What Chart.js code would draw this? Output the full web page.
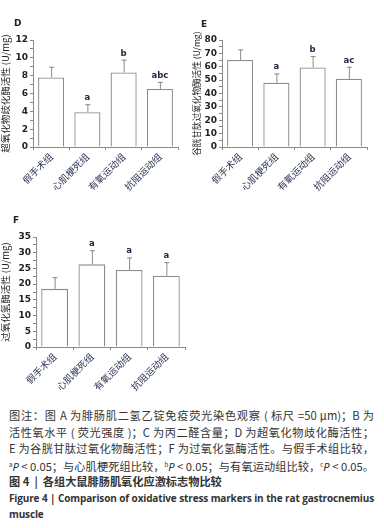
<!DOCTYPE html>
<html>
<head>
<meta charset="utf-8">
<script src="https://cdn.jsdelivr.net/npm/chart.js@4.4.1/dist/chart.umd.min.js"></script>
<style>
  body { margin: 0; background: #fff; width: 384px; height: 528px; position: relative; overflow: hidden; }
  .box { position: absolute; width: 192px; height: 200px; }
  .tag { position: absolute; font: bold 9px "DejaVu Sans", sans-serif; color: #222; }
  .cap { position: absolute; left: 9px; top: 407px; width: 365px; font: 11.2px/16.5px "Noto Sans CJK SC", "Noto Sans", sans-serif; color: #333; }
  .cap div { height: 16.5px; white-space: nowrap; }
  .cap .j { text-align: justify; text-align-last: justify; }
  .cap sup { font-size: 6px; vertical-align: 4px; }
  .cap i { font-family: "Noto Sans", sans-serif; }
  .cap .b { font-weight: bold; }
  .cap .en { font-family: "Open Sans", "Noto Sans", sans-serif; font-weight: bold; font-size: 10px; letter-spacing: -0.15px; }
</style>
</head>
<body>
<div class="box" style="left:0;top:0"><canvas id="chartD"></canvas></div>
<div class="box" style="left:192px;top:0"><canvas id="chartE"></canvas></div>
<div class="box" style="left:0;top:200px"><canvas id="chartF"></canvas></div>
<div class="tag" style="left:14px;top:18px">D</div>
<div class="tag" style="left:201px;top:19px">E</div>
<div class="tag" style="left:13px;top:215px">F</div>
<div class="cap">
  <div class="j">图注：图 A 为腓肠肌二氢乙锭免疫荧光染色观察 ( 标尺 =50 μm)；B 为</div>
  <div class="j">活性氧水平 ( 荧光强度 )；C 为丙二醛含量；D 为超氧化物歧化酶活性；</div>
  <div class="j">E 为谷胱甘肽过氧化物酶活性；F 为过氧化氢酶活性。与假手术组比较，</div>
  <div class="j"><sup>a</sup><i>P</i> &lt; 0.05；与心肌梗死组比较，<sup>b</sup><i>P</i> &lt; 0.05；与有氧运动组比较，<sup>c</sup><i>P</i> &lt; 0.05。</div>
  <div class="b">图 4 &nbsp;|&nbsp; 各组大鼠腓肠肌氧化应激标志物比较</div>
  <div class="j en">Figure 4 | Comparison of oxidative stress markers in the rat gastrocnemius</div>
  <div class="en">muscle</div>
</div>
<script>
const categories = ['假手术组', '心肌梗死组', '有氧运动组', '抗阻运动组'];

// D: superoxide dismutase
const sodValues = [7.8, 3.9, 8.35, 6.5];
const sodErrors = [1.2, 0.9, 1.45, 0.8];
const sodLetters = ['', 'a', 'b', 'abc'];
const sodTicks = [0, 2, 4, 6, 8, 10, 12];

// E: glutathione peroxidase
const gpxValues = [65, 48, 59.5, 51];
const gpxErrors = [8, 7, 8.5, 9];
const gpxLetters = ['', 'a', 'b', 'ac'];
const gpxTicks = [0, 10, 20, 30, 40, 50, 60, 70, 80];

// F: catalase
const catValues = [18.5, 26.3, 24.5, 22.7];
const catErrors = [3.7, 4.5, 4, 4.3];
const catLetters = ['', 'a', 'a', 'a'];
const catTicks = [0, 5, 10, 15, 20, 25, 30, 35];

const cjk = '"Noto Sans CJK SC", sans-serif';
const num = '"DejaVu Sans", sans-serif';

const errorBars = {
  id: 'errorBars',
  afterDatasetsDraw(chart, args, opts) {
    const ctx = chart.ctx;
    const y = chart.scales.y;
    const vals = chart.data.datasets[0].data;
    chart.getDatasetMeta(0).data.forEach((bar, i) => {
      const top = y.getPixelForValue(vals[i] + opts.errors[i]);
      ctx.save();
      ctx.strokeStyle = '#8a8a8a';
      ctx.lineWidth = 1;
      ctx.beginPath();
      ctx.moveTo(bar.x + 0.5, bar.y);
      ctx.lineTo(bar.x + 0.5, top);
      ctx.moveTo(bar.x - 2, top + 0.5);
      ctx.lineTo(bar.x + 3, top + 0.5);
      ctx.stroke();
      ctx.fillStyle = '#1c2540';
      ctx.font = 'bold 8.5px ' + num;
      ctx.textAlign = 'center';
      ctx.textBaseline = 'bottom';
      ctx.fillText(opts.letters[i], bar.x, top - 2);
      ctx.restore();
    });
  }
};

function makeChart(id, values, errors, letters, box, ticks, yTitle) {
  // major ticks plus one unlabeled minor tick between each pair
  const all = [];
  ticks.forEach((t, i) => {
    all.push({ value: t, major: true });
    if (i < ticks.length - 1) all.push({ value: (t + ticks[i + 1]) / 2, major: false });
  });
  return new Chart(document.getElementById(id), {
    type: 'bar',
    data: {
      labels: categories,
      datasets: [{
        data: values,
        backgroundColor: '#ffffff',
        borderColor: '#8c8c8c',
        borderWidth: 1.3,
        categoryPercentage: 1,
        barPercentage: 0.72
      }]
    },
    options: {
      animation: false,
      responsive: false,
      devicePixelRatio: 1,
      layout: { padding: { top: box.top, right: box.right, left: 0, bottom: 0 } },
      plugins: {
        legend: { display: false },
        tooltip: { enabled: false },
        errorBars: { errors: errors, letters: letters }
      },
      scales: {
        x: {
          afterFit: s => { s.height = box.xh; },
          border: { color: '#8a8a8a', width: 1 },
          grid: { drawOnChartArea: false, tickLength: 3, color: '#8a8a8a' },
          ticks: {
            maxRotation: 45, minRotation: 45, padding: 1,
            color: '#2b3350',
            font: { family: cjk, size: 9.5 }
          }
        },
        y: {
          min: ticks[0], max: ticks[ticks.length - 1],
          afterFit: s => { s.width = box.left; },
          afterBuildTicks: s => { s.ticks = all.map(t => ({ value: t.value })); },
          border: { color: '#8a8a8a', width: 1 },
          grid: { drawOnChartArea: false, tickLength: 3, color: '#8a8a8a' },
          title: {
            display: true, text: yTitle, padding: 0,
            color: '#222', font: { family: cjk, size: box.tsize }
          },
          ticks: {
            padding: 2, autoSkip: false,
            color: '#222',
            font: { family: num, size: 9, weight: 'bold' },
            callback: (v, i) => (all[i] && all[i].major ? String(all[i].value) : '')
          }
        }
      }
    },
    plugins: [errorBars]
  });
}

function size(id) {
  const c = document.getElementById(id);
  c.width = 192; c.height = 200;
  c.style.width = '192px'; c.style.height = '200px';
}
['chartD', 'chartE', 'chartF'].forEach(size);

makeChart('chartD', sodValues, sodErrors, sodLetters,
  { top: 40, right: 14, left: 33, xh: 53, tsize: 9.5 }, sodTicks, '超氧化物歧化酶活性 (U/mg)');
makeChart('chartE', gpxValues, gpxErrors, gpxLetters,
  { top: 40, right: 17, left: 30, xh: 53, tsize: 8.6 }, gpxTicks, '谷胱甘肽过氧化物酶活性 (U/mg)');
makeChart('chartF', catValues, catErrors, catLetters,
  { top: 37, right: 7, left: 36, xh: 53, tsize: 9.5 }, catTicks, '过氧化氢酶活性 (U/mg)');
</script>
</body>
</html>
